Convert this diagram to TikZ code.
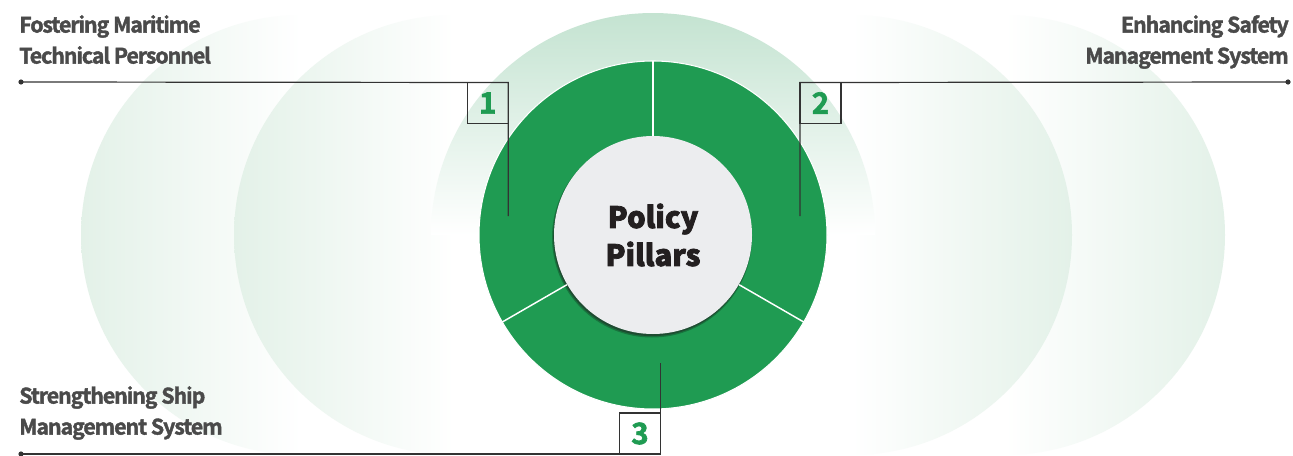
\documentclass[tikz,border=0pt]{standalone}
\usepackage{fontspec}
\setmainfont{Noto Sans CJK KR}[BoldFont={* Bold}]
\newfontfamily\labelfont{Noto Sans CJK KR Bold}[LetterSpace=-5,FakeBold=1.8]
\newfontfamily\hubfont{Noto Sans CJK KR Black}[FakeBold=2.6]
\newfontfamily\numfont{Noto Sans CJK KR Bold}[FakeBold=2.2]
\usetikzlibrary{shadows}
\definecolor{pillargreen}{HTML}{1F9B52}
\definecolor{halogreen}{HTML}{C4E3D1}
\definecolor{rimgreen}{HTML}{E3F1E8}
\definecolor{labelgray}{HTML}{4A4A4A}
\definecolor{titleblack}{HTML}{231F20}
\definecolor{linegray}{HTML}{333333}
\definecolor{hubgray}{HTML}{ECEDEF}
\tikzset{
  numbox/.style={draw=linegray,line width=0.9pt,minimum size=30.75pt,inner sep=0pt,outer sep=0pt,text=pillargreen,font=\numfont\fontsize{22pt}{22pt}\selectfont},
  pillartext/.style={text=labelgray,inner sep=0pt,font=\labelfont\fontsize{16pt}{23.25pt}\selectfont},
  leader/.style={draw=linegray,line width=0.9pt}
}
\begin{document}
\begin{tikzpicture}[x=0.75pt,y=0.75pt]
\useasboundingbox (0,0) rectangle (1293,455);
\fill[white] (0,0) rectangle (1293,455);
\shade[left color=rimgreen,right color=white,middle color=white] (301,220) circle (220);
\shade[left color=rimgreen,right color=white,middle color=white] (454,220) circle (220);
\shade[right color=rimgreen,left color=white,middle color=white] (1005,220) circle (220);
\shade[right color=rimgreen,left color=white,middle color=white] (852,220) circle (220);
\shade[top color=halogreen,bottom color=white] (431,220) arc[start angle=180,end angle=0,radius=222] -- cycle;
\fill[pillargreen] (653,220) circle (174);
\draw[white,line width=0.8pt] (653,220) circle (174);
\fill[black,opacity=0.25] (652,217.5) circle (100);
\node[circle,minimum size=148.5pt,inner sep=0pt,fill=hubgray,
  drop shadow={shadow xshift=-0.6pt,shadow yshift=-1.6pt,opacity=0.5,fill=black!85},
  align=center,text=titleblack,font=\hubfont\fontsize{22pt}{28.5pt}\selectfont] (hub) at (653,220) {Policy\\Pillars};
\foreach \a in {90,210,330}
  \draw[white,line width=1.1pt] ([shift={(\a:99.5)}]hub.center) -- ([shift={(\a:174)}]hub.center);
\node[pillartext,anchor=north west,align=left] (t1) at (19,440) {Fostering Maritime\\Technical Personnel};
\node[pillartext,anchor=north east,align=right] (t2) at (1289,440) {Enhancing Safety\\Management System};
\node[pillartext,anchor=north west,align=left] (t3) at (19,69) {Strengthening Ship\\Management System};
\node[numbox] (n1) at (487.75,352) {1};
\node[numbox] (n2) at (820.5,352) {2};
\node[numbox] (n3) at (640,21.5) {3};
\coordinate (d1) at (21,373);
\coordinate (e1) at (508.25,239);
\coordinate (d2) at (1288,373);
\coordinate (e2) at (800,239);
\coordinate (d3) at (21,1);
\coordinate (e3) at (660.5,92);
\draw[leader] (d1) -- (n1.north east) -- (e1);
\draw[leader] (d2) -- (n2.north west) -- (e2);
\draw[leader] (d3) -- (n3.south east) -- (e3);
\foreach \d in {d1,d2,d3}
  \fill[linegray] (\d) circle (2.6);
\end{tikzpicture}
\end{document}
